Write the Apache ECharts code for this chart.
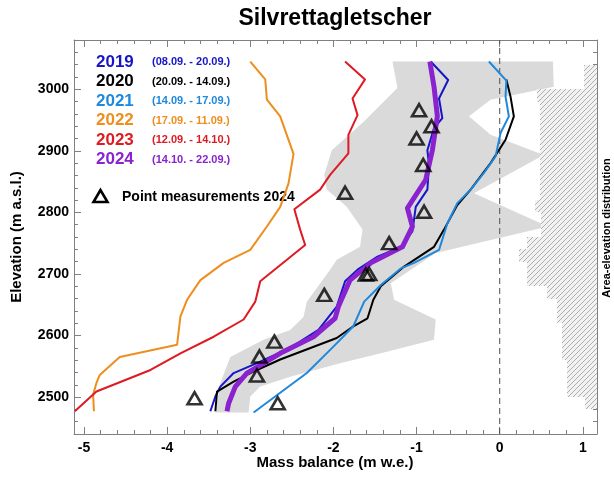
<!DOCTYPE html>
<html><head><meta charset="utf-8">
<script src="https://cdn.jsdelivr.net/npm/echarts@6/dist/echarts.min.js"></script>
<style>html,body{margin:0;padding:0;background:#fff}#c{width:614px;height:477px}</style>
</head><body><div id="c"></div>
<script>
// ---------------- data ----------------
const years = ['2019', '2020', '2021', '2022', '2023', '2024'];
const periods = ['(08.09. - 20.09.)', '(20.09. - 14.09.)', '(14.09. - 17.09.)', '(17.09. - 11.09.)', '(12.09. - 14.10.)', '(14.10. - 22.09.)'];
const colors = ['#1616c8', '#000000', '#1f88dd', '#ee8e1e', '#de1a22', '#8a22d0'];

const elev2019 = [3045, 3015, 2985, 2953, 2937, 2901, 2877, 2837, 2809, 2769, 2744, 2728, 2707, 2688, 2647, 2609, 2580, 2555, 2539, 2517, 2501, 2477];
const mb2019   = [-0.83, -0.62, -0.73, -0.69, -0.79, -0.87, -0.85, -0.87, -1.01, -1.05, -1.19, -1.47, -1.71, -1.86, -1.96, -2.18, -2.52, -2.92, -3.20, -3.36, -3.42, -3.48];

const elev2020 = [3016, 2988, 2956, 2918, 2880, 2837, 2812, 2772, 2744, 2712, 2680, 2658, 2628, 2615, 2596, 2561, 2544, 2525, 2509, 2477];
const mb2020   = [0.08, 0.13, 0.17, 0.07, -0.11, -0.35, -0.51, -0.67, -0.79, -1.15, -1.43, -1.52, -1.59, -1.76, -1.96, -2.64, -2.92, -3.20, -3.40, -3.42];

const elev2021 = [3045, 3014, 2988, 2956, 2929, 2891, 2864, 2837, 2815, 2782, 2739, 2718, 2709, 2682, 2655, 2615, 2582, 2539, 2507, 2475];
const mb2021   = [-0.13, 0.08, 0.07, 0.11, 0.01, -0.05, -0.19, -0.35, -0.51, -0.63, -0.73, -1.03, -1.19, -1.43, -1.63, -1.76, -2.00, -2.32, -2.64, -2.96];

const elev2022 = [3045, 3016, 2983, 2956, 2895, 2847, 2809, 2777, 2739, 2718, 2690, 2658, 2631, 2585, 2565, 2536, 2523, 2504, 2477];
const mb2022   = [-3.00, -2.82, -2.80, -2.64, -2.48, -2.54, -2.64, -2.80, -3.00, -3.32, -3.60, -3.76, -3.84, -3.88, -4.57, -4.81, -4.85, -4.89, -4.88];

const elev2023 = [3045, 3016, 2985, 2958, 2926, 2896, 2861, 2837, 2805, 2772, 2747, 2688, 2655, 2626, 2598, 2571, 2544, 2509, 2477];
const mb2023   = [-1.86, -1.62, -1.77, -1.71, -1.82, -1.82, -2.04, -2.16, -2.47, -2.40, -2.34, -2.88, -2.94, -3.08, -3.44, -3.84, -4.20, -4.85, -5.11];

const elev2024 = [3045, 3004, 2956, 2901, 2853, 2807, 2777, 2744, 2718, 2690, 2647, 2628, 2598, 2571, 2539, 2517, 2490, 2477];
const mb2024   = [-0.84, -0.79, -0.75, -0.81, -0.89, -1.11, -1.05, -1.17, -1.55, -1.80, -1.94, -1.98, -2.24, -2.64, -3.04, -3.18, -3.26, -3.28];

// point measurements 2024
const ptElev = [2966, 2940, 2920, 2877, 2801, 2832, 2750, 2699, 2700, 2666, 2590, 2566, 2535, 2498, 2490];
const ptMb   = [-0.97, -0.82, -1.00, -0.92, -0.91, -1.86, -1.33, -1.61, -1.57, -2.11, -2.71, -2.89, -2.92, -3.67, -2.67];

// grey range band (right and left boundary)
const bandRightElev = [3045, 3004, 2983, 2956, 2926, 2893, 2831, 2777, 2734, 2685, 2658, 2626, 2593, 2571, 2555, 2533, 2517, 2501, 2475];
const bandRightMb   = [0.64, 0.65, -0.11, -0.37, -0.11, 0.53, -0.31, 0.58, -0.77, -1.31, -1.27, -0.77, -0.79, -1.43, -1.92, -2.52, -2.88, -3.00, -3.02];
const bandLeftElev  = [3045, 3002, 2947, 2901, 2861, 2837, 2809, 2772, 2744, 2723, 2707, 2655, 2630, 2609, 2593, 2565, 2523, 2475];
const bandLeftMb    = [-1.29, -1.23, -1.64, -2.02, -2.11, -2.08, -1.84, -1.65, -1.68, -1.96, -2.04, -2.32, -2.36, -2.52, -2.84, -3.24, -3.36, -3.42];

// area-elevation distribution (% of area per 20 m band, band lower bound)
const areaBandBase = [2480, 2500, 2520, 2540, 2560, 2580, 2600, 2620, 2640, 2660, 2680, 2700, 2720, 2740, 2760, 2780, 2800, 2820, 2840, 2860, 2880, 2900, 2920, 2940, 2960, 2980, 3000, 3020];
const areaShare    = [0.9, 2.2, 2.2, 2.2, 2.6, 2.6, 2.6, 3.0, 3.0, 3.7, 5.2, 5.2, 5.8, 5.2, 4.2, 4.2, 4.6, 4.25, 4.25, 4.25, 4.25, 4.25, 4.25, 4.25, 4.25, 4.5, 1.0, 1.0];
const areaBandSize = 20;

const zeroLineMb = [0, 0];
const zeroLineElev = [2440, 3080];

const xTicks = [-5, -4, -3, -2, -1, 0, 1];
const yTicks = [2500, 2600, 2700, 2800, 2900, 3000];
const xMinorStep = 0.2, yMinorStep = 20;
// ---------------------------------------

const FONT = '"Liberation Sans", Arial, Helvetica, sans-serif';
const XMIN = -5.12, XMAX = 1.17, YMIN = 2440, YMAX = 3080;
const xMinor = [], yMinor = [];
for (let i = -26; i <= 6; i++) { const v = +(i * xMinorStep).toFixed(2); if (v >= XMIN && v <= XMAX) xMinor.push(v); }
for (let v = YMIN; v <= YMAX; v += yMinorStep) yMinor.push(v);

const zip = (a, b) => a.map((v, i) => [v, b[i]]);

// hatch pattern
const hc = document.createElement('canvas'); hc.width = 5; hc.height = 5;
const g = hc.getContext('2d');
g.fillStyle = '#f2f2f2'; g.fillRect(0, 0, 5, 5);
g.strokeStyle = '#9c9c9c'; g.lineWidth = 0.8;
g.beginPath(); g.moveTo(0, 5); g.lineTo(5, 0); g.moveTo(-1, 1); g.lineTo(1, -1); g.moveTo(4, 6); g.lineTo(6, 4); g.stroke();

const axisCol = '#808080';
const fmt = v => String(v);
function xAx(pos, values, len, showLine, showLabel) {
  return {
    type: 'value', gridIndex: 0, position: pos, min: XMIN, max: XMAX,
    axisLine: { show: showLine, onZero: false, lineStyle: { color: axisCol, width: 1 } },
    axisTick: { show: true, inside: true, length: len, customValues: values, lineStyle: { color: axisCol, width: 1 } },
    axisLabel: { show: showLabel, customValues: xTicks, formatter: fmt, color: '#000', fontSize: 14, fontWeight: 'bold', fontFamily: FONT, margin: 7 },
    splitLine: { show: false }
  };
}
function yAx(pos, values, len, showLine, showLabel) {
  return {
    type: 'value', gridIndex: 0, position: pos, min: YMIN, max: YMAX,
    axisLine: { show: showLine, onZero: false, lineStyle: { color: axisCol, width: 1 } },
    axisTick: { show: true, inside: true, length: len, customValues: values, lineStyle: { color: axisCol, width: 1 } },
    axisLabel: { show: showLabel, customValues: yTicks, formatter: fmt, color: '#000', fontSize: 14, fontWeight: 'bold', fontFamily: FONT, margin: 5 },
    splitLine: { show: false }
  };
}

const series = [];
series.push({
  type: 'custom', xAxisIndex: 0, yAxisIndex: 0, z: 1, silent: true, data: [0],
  renderItem: (params, api) => {
    const pts = [];
    for (let i = 0; i < bandRightMb.length; i++) pts.push(api.coord([bandRightMb[i], bandRightElev[i]]));
    for (let i = bandLeftMb.length - 1; i >= 0; i--) pts.push(api.coord([bandLeftMb[i], bandLeftElev[i]]));
    return { type: 'polygon', shape: { points: pts }, style: { fill: '#dadada' } };
  }
});
series.push({
  type: 'custom', xAxisIndex: 4, yAxisIndex: 0, z: 2, silent: true,
  data: zip(areaShare, areaBandBase),
  renderItem: (params, api) => {
    const v = api.value(0), b = api.value(1);
    const p0 = api.coord([0, b]), p1 = api.coord([v, b + areaBandSize]);
    const x0 = Math.round(Math.min(p0[0], p1[0])), x1 = Math.round(Math.max(p0[0], p1[0]));
    const y0 = Math.round(Math.min(p0[1], p1[1])), y1 = Math.round(Math.max(p0[1], p1[1]));
    return { type: 'rect', shape: { x: x0, y: y0, width: x1 - x0, height: y1 - y0 }, style: { fill: { image: hc, repeat: 'repeat' } } };
  }
});
series.push({
  type: 'line', xAxisIndex: 0, yAxisIndex: 0, z: 3, silent: true, symbol: 'none',
  data: zip(zeroLineMb, zeroLineElev), lineStyle: { color: '#505050', width: 1, type: [6, 4] }
});
const mbs = [mb2019, mb2020, mb2021, mb2022, mb2023, mb2024];
const elevs = [elev2019, elev2020, elev2021, elev2022, elev2023, elev2024];
years.forEach((y, k) => {
  series.push({
    type: 'line', name: y, xAxisIndex: 0, yAxisIndex: 0, z: 5 + k, symbol: 'none', silent: true,
    data: zip(mbs[k], elevs[k]),
    lineStyle: { color: colors[k], width: y === '2024' ? 5 : 2, join: 'round' }
  });
});
series.push({
  type: 'scatter', name: 'Point measurements 2024', xAxisIndex: 0, yAxisIndex: 0, z: 20,
  data: zip(ptMb, ptElev), symbol: 'triangle', symbolSize: [14, 12],
  itemStyle: { color: 'rgba(255,255,255,0)', borderColor: '#000', borderWidth: 2.6 }
});

const graphic = [
  { type: 'text', x: 335, y: 19, style: { text: 'Silvrettagletscher', font: 'bold 23px ' + FONT, fill: '#000', align: 'center', verticalAlign: 'middle' } },
  { type: 'text', x: 335, y: 463, style: { text: 'Mass balance (m w.e.)', font: 'bold 15px ' + FONT, fill: '#000', align: 'center', verticalAlign: 'middle' } },
  { type: 'text', x: 17, y: 237, rotation: Math.PI / 2, style: { text: 'Elevation (m a.s.l.)', font: 'bold 15px ' + FONT, fill: '#000', align: 'center', verticalAlign: 'middle' } },
  { type: 'text', x: 607, y: 228, rotation: Math.PI / 2, style: { text: 'Area-elevation distribution', font: 'bold 11px ' + FONT, fill: '#000', align: 'center', verticalAlign: 'middle' } },
  { type: 'polygon', shape: { points: [[100.5, 190], [93.5, 202], [107.5, 202]] }, style: { fill: 'none', stroke: '#000', lineWidth: 2.6 } },
  { type: 'text', x: 122, y: 197, style: { text: 'Point measurements 2024', font: 'bold 14px ' + FONT, fill: '#000', align: 'left', verticalAlign: 'middle' } }
];
const rowY = [62, 81.5, 101, 120.5, 140, 159.5];
years.forEach((y, k) => {
  graphic.push({ type: 'text', x: 96, y: rowY[k], style: { text: y, font: 'bold 17px ' + FONT, fill: colors[k], align: 'left', verticalAlign: 'middle' } });
  graphic.push({ type: 'text', x: 152, y: rowY[k], style: { text: periods[k], font: 'bold 11px ' + FONT, fill: colors[k], align: 'left', verticalAlign: 'middle' } });
});

const chart = echarts.init(document.getElementById('c'), null, { renderer: 'canvas' });
chart.setOption({
  animation: false,
  backgroundColor: '#fff',
  grid: { left: 74, right: 17, top: 40, bottom: 43, containLabel: false, outerBoundsMode: 'none' },
  xAxis: [
    xAx('bottom', xTicks, 7, true, true),
    xAx('bottom', xMinor, 4, false, false),
    xAx('top', xTicks, 7, true, false),
    xAx('top', xMinor, 4, false, false),
    { type: 'value', gridIndex: 0, show: false, inverse: true, min: 0, max: 39 }
  ],
  yAxis: [
    yAx('left', yTicks, 7, true, true),
    yAx('left', yMinor, 4, false, false),
    yAx('right', yTicks, 7, true, false),
    yAx('right', yMinor, 4, false, false)
  ],
  graphic: graphic,
  series: series
});
</script></body></html>
